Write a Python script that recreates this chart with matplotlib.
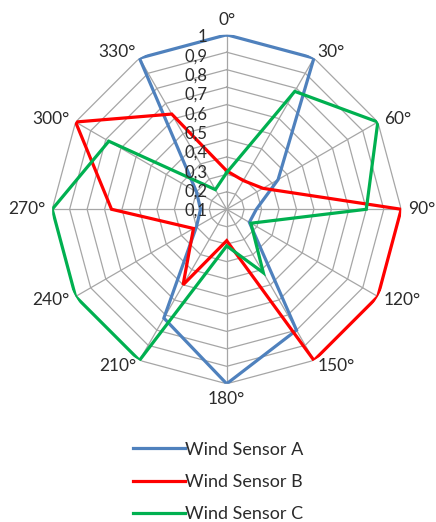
import numpy as np
import matplotlib
matplotlib.use("Agg")
import matplotlib.pyplot as plt
from matplotlib.lines import Line2D

plt.rcParams['font.family'] = ['Lato', 'DejaVu Sans']

# Wind direction categories and sensor readings
directions = ["0°", "30°", "60°", "90°", "120°", "150°",
              "180°", "210°", "240°", "270°", "300°", "330°"]
sensor_a = [1.0, 1.0, 0.34, 0.17, 0.15, 0.8, 1.0, 0.72, 0.2, 0.15, 0.2, 1.0]
sensor_b = [0.22, 0.19, 0.24, 1.0, 1.0, 1.0, 0.18, 0.5, 0.22, 0.66, 1.0, 0.63]
sensor_c = [0.21, 0.78, 1.0, 0.8, 0.16, 0.42, 0.21, 1.0, 1.0, 1.0, 0.78, 0.13]
series_names = ["Wind Sensor A", "Wind Sensor B", "Wind Sensor C"]
series_colors = ["#4F81BD", "#FF0000", "#00B050"]
ring_values = [0.1, 0.2, 0.3, 0.4, 0.5, 0.6, 0.7, 0.8, 0.9, 1.0]
ring_labels = ["0,1", "0,2", "0,3", "0,4", "0,5", "0,6", "0,7", "0,8", "0,9", "1"]

fig = plt.figure(figsize=(4.36, 5.22), dpi=100)
ax = fig.add_axes([0.1197, 0.2648, 0.8005, 0.6686], projection="polar")
ax.set_theta_zero_location("N")
ax.set_theta_direction(-1)
ax.set_ylim(0, 1)
ax.grid(False)
ax.set_xticks([])
ax.set_yticks([])
ax.spines["polar"].set_visible(False)
ax.patch.set_alpha(0)

n = len(directions)
theta = np.deg2rad(np.arange(n) * 360.0 / n)
theta_closed = np.append(theta, theta[0])

grid_color = "#a6a6a6"
# polygonal rings
for v in ring_values:
    ax.plot(theta_closed, [v] * (n + 1), color=grid_color, lw=0.9, zorder=1)
# spokes
for t in theta:
    ax.plot([t, t], [0, 1], color=grid_color, lw=0.9, zorder=1)

# sensor series
for vals, col in zip([sensor_a, sensor_b, sensor_c], series_colors):
    ax.plot(theta_closed, list(vals) + [vals[0]], color=col, lw=2.3,
            solid_joinstyle="miter", zorder=3)

text_color = "#2b2b2b"
# direction labels around the outside
for t, lab in zip(theta, directions):
    deg = np.rad2deg(t)
    if np.isclose(deg, 0):
        ha, va = "center", "bottom"
    elif np.isclose(deg, 180):
        ha, va = "center", "top"
    elif deg < 180:
        ha, va = "left", "center"
    else:
        ha, va = "right", "center"
    ax.text(t, 1.04, lab, ha=ha, va=va, fontsize=12.5, color=text_color)

# value labels stacked beside the 0° spoke
label_y = np.linspace(0.4951, 0.9937, len(ring_labels))
for y, lab in zip(label_y, ring_labels):
    ax.text(0.4436, y, lab, transform=ax.transAxes, ha="right", va="center",
            fontsize=12, color=text_color, zorder=4)

handles = [Line2D([0], [0], color=c, lw=2.3) for c in series_colors]
fig.legend(handles, series_names, loc="upper center",
           bbox_to_anchor=(0.5, 0.185), frameon=False, fontsize=13,
           handlelength=2.9, handletextpad=0.0, labelspacing=0.9,
           labelcolor=text_color)

fig.savefig("out.png", dpi=100)
